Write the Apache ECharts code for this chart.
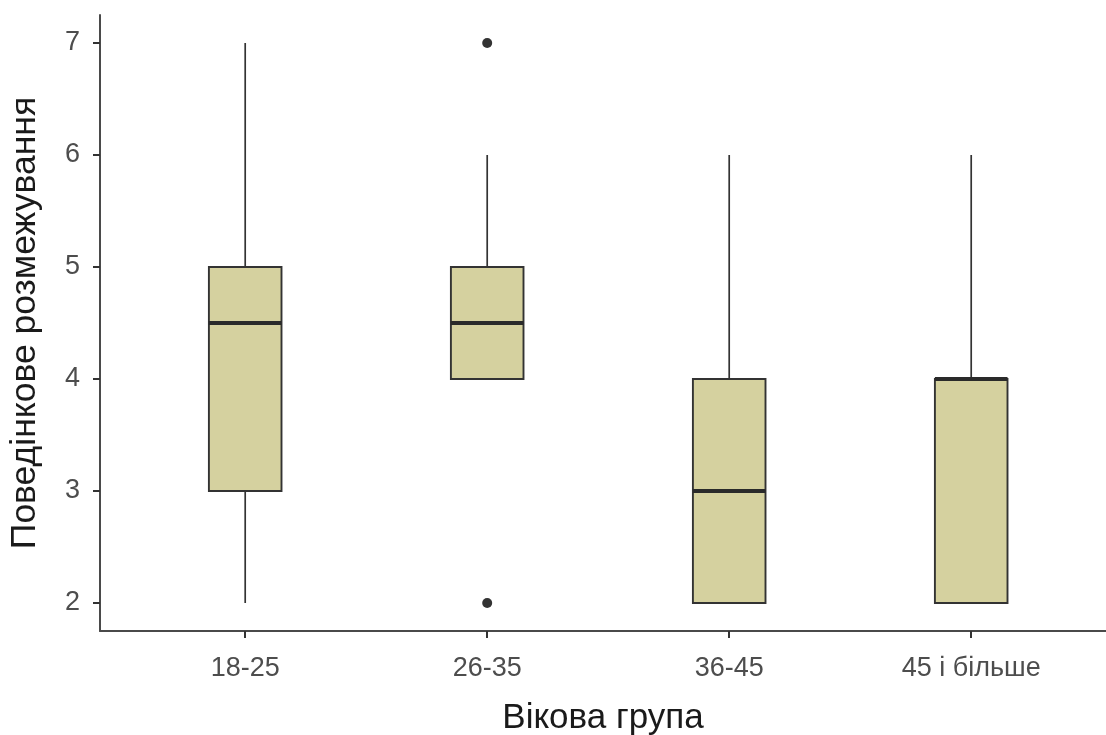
<!DOCTYPE html>
<html>
<head>
<meta charset="utf-8">
<script src="https://cdn.jsdelivr.net/npm/echarts@6/dist/echarts.min.js"></script>
<style>
  html, body { margin: 0; padding: 0; background: #fff; }
  #chart { width: 1106px; height: 735px; }
</style>
</head>
<body>
<div id="chart"></div>
<script>
// Age groups on the x axis
const categories = ['18-25', '26-35', '36-45', '45 і більше'];
// Five-number summaries per group: whisker low, Q1, median, Q3, whisker high
const whiskerLow  = [2, 4, 2, 2];
const q1          = [3, 4, 2, 2];
const median      = [4.5, 4.5, 3, 4];
const q3          = [5, 5, 4, 4];
const whiskerHigh = [7, 6, 6, 6];
// Outliers: [group index, value]
const outliers = [[1, 7], [1, 2]];
// Y axis tick values
const yTicks = [2, 3, 4, 5, 6, 7];

const FONT = '"Liberation Sans", Arial, sans-serif';
const LINE = '#333333';
const FILL = '#D5D19F';

const boxData = categories.map((c, i) => [i + 1, whiskerLow[i], q1[i], median[i], q3[i], whiskerHigh[i]]);
const outlierData = outliers.map(o => [o[0] + 1, o[1]]);
const xPositions = categories.map((c, i) => i + 1);

function renderBox(params, api) {
  const x = api.value(0);
  const pLow = api.coord([x, api.value(1)]);
  const pQ1 = api.coord([x, api.value(2)]);
  const pMed = api.coord([x, api.value(3)]);
  const pQ3 = api.coord([x, api.value(4)]);
  const pHigh = api.coord([x, api.value(5)]);
  const w = api.size([0.3, 0])[0];
  const left = pMed[0] - w / 2;
  const children = [];
  if (pHigh[1] < pQ3[1]) {
    children.push({ type: 'line', shape: { x1: pQ3[0], y1: pQ3[1], x2: pHigh[0], y2: pHigh[1] },
      style: { stroke: LINE, lineWidth: 1.7 } });
  }
  if (pLow[1] > pQ1[1]) {
    children.push({ type: 'line', shape: { x1: pQ1[0], y1: pQ1[1], x2: pLow[0], y2: pLow[1] },
      style: { stroke: LINE, lineWidth: 1.7 } });
  }
  children.push({ type: 'rect', shape: { x: left, y: pQ3[1], width: w, height: pQ1[1] - pQ3[1] },
    style: { fill: FILL, stroke: LINE, lineWidth: 1.9 } });
  children.push({ type: 'line', shape: { x1: left, y1: pMed[1], x2: left + w, y2: pMed[1] },
    style: { stroke: '#2a2a2a', lineWidth: 4 } });
  return { type: 'group', children: children };
}

const chart = echarts.init(document.getElementById('chart'));
chart.setOption({
  backgroundColor: '#ffffff',
  animation: false,
  grid: { left: 100, right: 0, top: 15, bottom: 104, containLabel: false, outerBoundsMode: 'none' },
  xAxis: {
    type: 'value',
    min: 0.4,
    max: 4.557,
    name: 'Вікова група',
    nameLocation: 'middle',
    nameGap: 70,
    nameTextStyle: { fontFamily: FONT, fontSize: 35, color: '#1a1a1a' },
    splitLine: { show: false },
    axisLine: { show: true, lineStyle: { color: '#4a4a4a', width: 2 } },
    axisTick: { show: true, length: 7, customValues: xPositions, lineStyle: { color: '#333', width: 2 } },
    axisLabel: {
      customValues: xPositions,
      formatter: v => categories[Math.round(v) - 1] || '',
      fontFamily: FONT, fontSize: 27, color: '#4d4d4d', margin: 24
    }
  },
  yAxis: {
    type: 'value',
    min: 1.75,
    max: 7.25,
    name: 'Поведінкове розмежування',
    nameLocation: 'middle',
    nameGap: 57,
    nameTextStyle: { fontFamily: FONT, fontSize: 35.5, color: '#1a1a1a' },
    splitLine: { show: false },
    axisLine: { show: true, lineStyle: { color: '#4a4a4a', width: 2 } },
    axisTick: { show: true, length: 7, customValues: yTicks, lineStyle: { color: '#333', width: 2 } },
    axisLabel: {
      customValues: yTicks,
      fontFamily: FONT, fontSize: 27, color: '#4d4d4d', margin: 20
    }
  },
  series: [
    {
      type: 'custom',
      renderItem: renderBox,
      data: boxData,
      encode: { x: 0, y: [1, 2, 3, 4, 5] },
      z: 2
    },
    {
      type: 'scatter',
      data: outlierData,
      symbol: 'circle',
      symbolSize: 10,
      itemStyle: { color: '#333333', opacity: 1 },
      z: 3
    }
  ]
});
</script>
</body>
</html>
